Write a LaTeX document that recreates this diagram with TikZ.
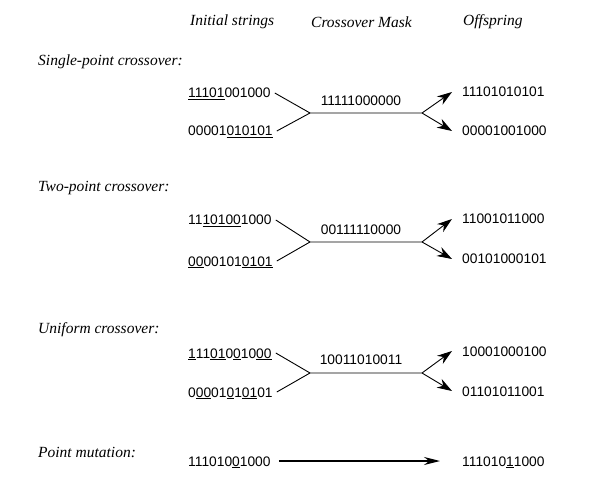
\documentclass[tikz,border=0pt]{standalone}
\usepackage{fontspec}
\setmainfont{Liberation Serif}
\newfontfamily\bitfont{Liberation Sans}
\usetikzlibrary{arrows.meta}
\begin{document}
\begin{tikzpicture}[
  x=1pt, y=-1pt,
  head/.style={font=\fontsize{15.5}{18}\selectfont\itshape, anchor=west, inner sep=0pt},
  bits/.style={font=\bitfont\fontsize{13.8}{16}\selectfont, anchor=west,
               inner sep=4pt, text height=10pt, text depth=0pt},
  mask/.style={bits, anchor=center},
  wire/.style={line width=0.9pt},
  arrow/.style={line width=0.9pt, -{Stealth[length=15pt,width=10pt]}}
]
  \useasboundingbox (0,0) rectangle (608,497);

  % column headings
  \node[head] (h1) at (190,22) {Initial strings};
  \node[head] (h2) at (311,22) {Crossover Mask};
  \node[head] (h3) at (463,22) {Offspring};

  % single-point
  \node[head] (l1) at (38,62) {Single-point crossover:};
  \node[bits] (a1) at (184,93)  {\underline{11101}001000};
  \node[bits] (b1) at (184,131) {00001\underline{010101}};
  \node[mask] (m1) at (361,101) {11111000000};
  \node[bits] (c1) at (458,92)  {11101010101};
  \node[bits] (d1) at (458,131) {00001001000};
  \coordinate (j1) at (310,113);
  \coordinate (k1) at (422,113);
  \draw[wire] (a1.east) -- (j1) -- (k1);
  \draw[wire] (b1.east) -- (j1);
  \draw[arrow] (k1) -- ([xshift=-6pt]c1.west);
  \draw[arrow] (k1) -- ([xshift=-6pt]d1.west);

  % two-point
  \node[head] (l2) at (38,188) {Two-point crossover:};
  \node[bits] (a2) at (184,220) {11\underline{10100}1000};
  \node[bits] (b2) at (184,261) {\underline{00}00101\underline{0101}};
  \node[mask] (m2) at (361,230) {00111110000};
  \node[bits] (c2) at (458,219) {11001011000};
  \node[bits] (d2) at (458,259) {00101000101};
  \coordinate (j2) at (310,242);
  \coordinate (k2) at (422,242);
  \draw[wire] (a2.east) -- (j2) -- (k2);
  \draw[wire] (b2.east) -- (j2);
  \draw[arrow] (k2) -- ([xshift=-6pt]c2.west);
  \draw[arrow] (k2) -- ([xshift=-6pt]d2.west);

  % uniform
  \node[head] (l3) at (38,330) {Uniform crossover:};
  \node[bits] (a3) at (184,353) {\underline{1}11\underline{01}0\underline{0}10\underline{00}};
  \node[bits] (b3) at (184,392) {0\underline{00}01\underline{0}1\underline{01}01};
  \node[mask] (m3) at (361,359) {10011010011};
  \node[bits] (c3) at (458,351) {10001000100};
  \node[bits] (d3) at (458,391) {01101011001};
  \coordinate (j3) at (310,373);
  \coordinate (k3) at (422,373);
  \draw[wire] (a3.east) -- (j3) -- (k3);
  \draw[wire] (b3.east) -- (j3);
  \draw[arrow] (k3) -- ([xshift=-6pt]c3.west);
  \draw[arrow] (k3) -- ([xshift=-6pt]d3.west);

  % mutation
  \node[head] (l4) at (38,452) {Point mutation:};
  \node[bits] (a4) at (184,461) {111010\underline{0}1000};
  \node[bits] (c4) at (458,461) {111010\underline{1}1000};
  \draw[line width=1.3pt, -{Stealth[length=16pt,width=8pt]}]
    ([xshift=4pt]a4.east) -- ([xshift=-18pt]c4.west);
\end{tikzpicture}
\end{document}
